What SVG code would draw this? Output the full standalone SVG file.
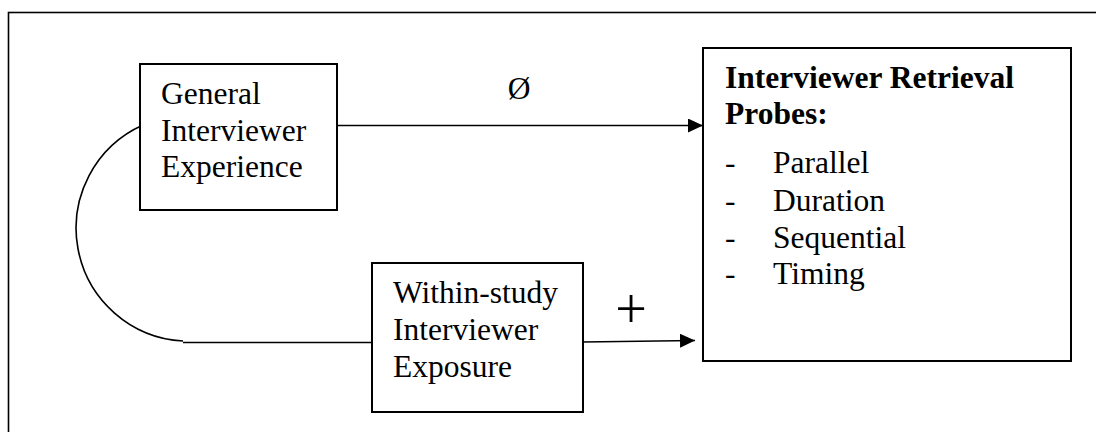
<svg xmlns="http://www.w3.org/2000/svg" width="1096" height="432" viewBox="0 0 1096 432">
  <style>
    .box { fill: #fff; stroke: #000; stroke-width: 2; }
    .frame { fill: none; stroke: #000; stroke-width: 1.6; }
    .wire { fill: none; stroke: #000; stroke-width: 1.6; }
    text { font-family: "Liberation Serif", "Times New Roman", serif; font-size: 31.5px; fill: #000; }
    .bold { font-weight: bold; }
  </style>
  <defs>
    <marker id="arrow" markerWidth="15" markerHeight="14" refX="15" refY="7" orient="auto" markerUnits="userSpaceOnUse">
      <path d="M0,0 L15,7 L0,14 Z" fill="#000"/>
    </marker>
  </defs>

  <rect width="1096" height="432" fill="#fff"/>
  <!-- outer frame, running off the right and bottom edges -->
  <rect class="frame" x="8.5" y="12.5" width="1100" height="440"/>

  <g id="connectors">
    <path class="wire" d="M337,125.5 L703,125.5" marker-end="url(#arrow)"/>
    <path class="wire" d="M583,342 L695,340.5" marker-end="url(#arrow)"/>
    <path class="wire" d="M143,125 A113,113 0 0 0 183,341"/>
    <path class="wire" d="M183,342.5 L372,342.5"/>
    <text x="519" y="99" text-anchor="middle">Ø</text>
    <text x="631" y="328" text-anchor="middle" style="font-size:56px">+</text>
  </g>

  <g id="general">
    <rect class="box" x="140" y="64" width="197" height="146"/>
    <text x="161" y="104">General</text>
    <text x="161" y="140.5">Interviewer</text>
    <text x="161" y="177">Experience</text>
  </g>

  <g id="within">
    <rect class="box" x="372" y="263" width="211" height="149"/>
    <text x="393" y="302.5">Within-study</text>
    <text x="393" y="339.5">Interviewer</text>
    <text x="393" y="376.5">Exposure</text>
  </g>

  <g id="probes">
    <rect class="box" x="703" y="48" width="368" height="313"/>
    <text class="bold" x="725" y="88">Interviewer Retrieval</text>
    <text class="bold" x="725" y="124">Probes:</text>
    <text x="725" y="173">-</text><text x="773" y="173">Parallel</text>
    <text x="725" y="210.5">-</text><text x="773" y="210.5">Duration</text>
    <text x="725" y="247.5">-</text><text x="773" y="247.5">Sequential</text>
    <text x="725" y="284">-</text><text x="773" y="284">Timing</text>
  </g>
</svg>
